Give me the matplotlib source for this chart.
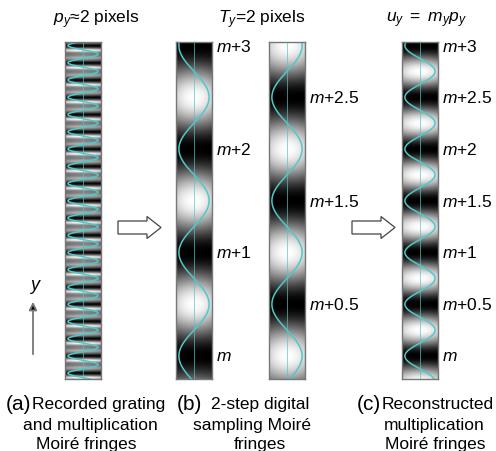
import numpy as np
import matplotlib.pyplot as plt
from matplotlib import transforms
from matplotlib.patches import FancyArrow

plt.rcParams['font.family'] = ['Liberation Sans', 'DejaVu Sans']
plt.rcParams['mathtext.fontset'] = 'custom'
plt.rcParams['mathtext.rm'] = 'Liberation Sans'
plt.rcParams['mathtext.it'] = 'Liberation Sans:italic'

W, H = 496, 452

# Fringe data (in fringe orders, m = 0)
titles = [r'$p_y$≈2 pixels', r'$T_y$=2 pixels', r'$u_y\ =\ m_yp_y$']
periods = [1 / 6, 1.0, 1.0, 0.5]        # fringe period of each strip
dark_order = [0.0, 0.0, 0.5, 0.0]      # order where a dark fringe sits
order_labels = [[], [0, 1, 2, 3], [0.5, 1.5, 2.5],
                [0, 0.5, 1, 1.5, 2, 2.5, 3]]
caption_tags = ['(a)', '(b)', '(c)']
caption_lines = [['Recorded grating', 'and multiplication', 'Moiré fringes'],
                 ['2-step digital', 'sampling Moiré', 'fringes'],
                 ['Reconstructed', 'multiplication', 'Moiré fringes']]

# layout (pixels)
strip_x = [65, 176, 269, 402]
strip_w = 36
strip_top, strip_bot = 43, 380
Y0, S = 357, 103.5   # pixel row of order m and pixels per order
v_top = (Y0 - strip_top) / S
v_bot = (Y0 - strip_bot) / S
title_x = [96, 262, 427]
tag_x = [6, 177, 357]
line_x = [[99, 90, 86], [260, 252, 260], [438, 434, 435]]
line_y = [405, 426, 445]
cyan = '#4ec9c9'

fig = plt.figure(figsize=(W / 100, H / 100), dpi=100)
ax0 = fig.add_axes([0, 0, 1, 1])
ax0.set_xlim(0, W)
ax0.set_ylim(H, 0)
ax0.axis('off')

v = np.linspace(v_bot, v_top, 800)
xx = np.linspace(0, 1, 60)
shade = 1 - 0.18 * (2 * xx - 1) ** 2

for i in range(4):
    P = periods[i]
    ph = (v - dark_order[i]) / P
    if i == 0:
        u = (ph + 0.5) % 1 - 0.5
        prof = 0.5 - 0.48 * np.exp(-(u / 0.12) ** 2) \
            + 0.5 * np.exp(-((u + 0.27) / 0.09) ** 2) \
            + 0.2 * np.exp(-((u - 0.3) / 0.1) ** 2)
    else:
        prof = 0.5 - 0.5 * np.cos(2 * np.pi * ph)
    img = np.clip(prof[:, None] * shade[None, :], 0, 1)
    ax = fig.add_axes([strip_x[i] / W, 1 - strip_bot / H,
                       strip_w / W, (strip_bot - strip_top) / H])
    ax.imshow(img, extent=(0, 1, v_bot, v_top), origin='lower', aspect='auto',
              cmap='gray', vmin=0, vmax=1, interpolation='bilinear')
    ax.plot(0.5 - 0.42 * np.cos(2 * np.pi * ph), v, color=cyan, lw=1.1)
    ax.axvline(0.5, color=cyan, lw=0.6, alpha=0.8)
    ax.set_xlim(0, 1)
    ax.set_ylim(v_bot, v_top)
    ax.set_xticks([])
    ax.set_yticks([])
    for sp in ax.spines.values():
        sp.set_color('#777777')
        sp.set_linewidth(1.0)
    trans = transforms.blended_transform_factory(ax.transAxes, ax.transData)
    for o in order_labels[i]:
        lab = r'$m$' if o == 0 else r'$m$+' + ('%g' % o)
        ax.text(1.12, o, lab, transform=trans, fontsize=12.5,
                va='center', ha='left', clip_on=False)

for k in range(3):
    ax0.text(title_x[k], 20, titles[k], fontsize=12.5, ha='center', va='center')
    ax0.text(tag_x[k], line_y[0], caption_tags[k], fontsize=15,
             ha='left', va='center')
    for j in range(3):
        ax0.text(line_x[k][j], line_y[j], caption_lines[k][j], fontsize=12.5,
                 ha='center', va='center')

# hollow block arrows
for x0 in [118, 352]:
    ax0.add_patch(FancyArrow(x0, 228.5, 43, 0, width=13, head_width=22,
                             head_length=14, length_includes_head=True,
                             fc='white', ec='#444444', lw=0.9))

# y axis arrow
ax0.annotate('', xy=(33, 300), xytext=(33, 358),
             arrowprops=dict(arrowstyle='-|>', ec='#777777', fc='black',
                             lw=1.3, mutation_scale=12))
ax0.text(35, 287, r'$y$', fontsize=13, ha='center', va='center')

fig.savefig('out.png', dpi=100)
